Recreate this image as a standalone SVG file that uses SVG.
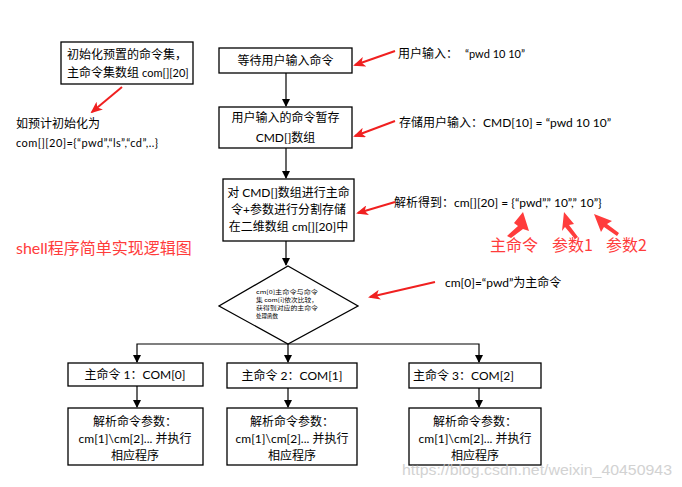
<svg xmlns="http://www.w3.org/2000/svg" width="682" height="487" viewBox="0 0 682 487">
<defs>
<style>
.t{font-family:Lato,"Noto Sans CJK SC",sans-serif;font-size:12px;fill:#000;}
.s{font-size:11px;}
.c{text-anchor:middle;}
.box{fill:#fff;stroke:#000;stroke-width:1.3;}
.ln{fill:none;stroke:#000;stroke-width:1.2;}
.rl{fill:none;stroke:#f02020;stroke-width:2;}
.red{font-family:"Noto Sans CJK SC",sans-serif;font-size:16px;fill:#ff3c3c;}
.tiny{font-family:"Noto Sans CJK SC",sans-serif;font-size:5.5px;fill:#000;}
.wm{font-family:"Liberation Sans",sans-serif;font-size:15px;fill:#c8c8c8;opacity:0.8;}
</style>
<marker id="ah" markerWidth="8" markerHeight="8" refX="7" refY="4" orient="auto" markerUnits="userSpaceOnUse">
<path d="M0,0 L8,4 L0,8 z" fill="#000"/>
</marker>
<marker id="rh" markerWidth="12" markerHeight="10" refX="10" refY="5" orient="auto" markerUnits="userSpaceOnUse">
<path d="M0,0 L12,5 L0,10 L3,5 z" fill="#f02020"/>
</marker>
</defs>
<rect width="682" height="487" fill="#fff"/>

<g id="connectors">
<line class="ln" x1="286" y1="73" x2="286" y2="106" marker-end="url(#ah)"/>
<line class="ln" x1="286" y1="148" x2="286" y2="178" marker-end="url(#ah)"/>
<line class="ln" x1="286" y1="241" x2="286" y2="265" marker-end="url(#ah)"/>
<polyline class="ln" points="137,362 137,344 479,344 479,362"/>
<line class="ln" x1="288" y1="344" x2="288" y2="362" marker-end="url(#ah)"/>
<line class="ln" x1="137" y1="355" x2="137" y2="362" marker-end="url(#ah)"/>
<line class="ln" x1="479" y1="355" x2="479" y2="362" marker-end="url(#ah)"/>
<line class="ln" x1="137" y1="386" x2="137" y2="407" marker-end="url(#ah)"/>
<line class="ln" x1="288" y1="388" x2="288" y2="407" marker-end="url(#ah)"/>
<line class="ln" x1="479" y1="388" x2="479" y2="407" marker-end="url(#ah)"/>
<line class="rl" x1="122" y1="87" x2="92" y2="112" marker-end="url(#rh)"/>
<line class="rl" x1="395" y1="51" x2="355" y2="65" marker-end="url(#rh)"/>
<line class="rl" x1="395" y1="121" x2="355" y2="136" marker-end="url(#rh)"/>
<line class="rl" x1="395" y1="202" x2="358" y2="213" marker-end="url(#rh)"/>
<line class="rl" x1="435" y1="282" x2="370" y2="297" marker-end="url(#rh)"/>
<path d="M523,212 L529,231 L523,229 L511,238 L507,236 L518,226 L514,223 z" fill="#ff3c3c"/>
<path d="M564,212 L574,224 L569,225 L578,237 L575,239 L565,227 L562,231 z" fill="#ff3c3c"/>
<path d="M594,214 L612,221 L607,224 L619,233 L617,236 L604,227 L601,232 z" fill="#ff3c3c"/>
</g>

<g id="preset">
<rect class="box" x="61" y="42" width="132" height="42"/>
<text class="t" x="67" y="59">初始化预置的命令集，</text>
<text class="t" x="67" y="77">主命令集数组 <tspan class="s">com[][20]</tspan></text>
</g>
<g id="preset-note">
<text class="t" x="16" y="128">如预计初始化为</text>
<text class="t s" x="16" y="147" textLength="142" lengthAdjust="spacing">com[][20]={“pwd”,“ls”,“cd”,..}</text>
</g>

<g id="wait">
<rect class="box" x="219" y="48" width="133" height="25"/>
<text class="t c" x="285.5" y="65">等待用户输入命令</text>
</g>
<g id="store">
<rect class="box" x="219" y="107" width="133" height="41"/>
<text class="t c" x="285.5" y="122">用户输入的命令暂存</text>
<text class="t c" x="285.5" y="142">CMD[]数组</text>
</g>
<g id="split">
<rect class="box" x="223" y="179" width="131" height="62"/>
<text class="t c" x="288.5" y="197">对 CMD[]数组进行主命</text>
<text class="t c" x="288.5" y="214">令+参数进行分割存储</text>
<text class="t c" x="288.5" y="231">在二维数组 cm[][20]中</text>
</g>

<g id="input-note">
<text class="t" x="398" y="58">用户输入：<tspan x="465" class="s">“pwd 10 10”</tspan></text>
</g>
<g id="store-note">
<text class="t" x="399" y="127">存储用户输入：CMD[10] = “pwd 10 10”</text>
</g>
<g id="parse-note">
<text class="t" x="394" y="207">解析得到：cm[][20] = {“pwd”,” 10”,” 10”}</text>
</g>
<g id="labels">
<text class="red" x="490" y="251">主命令</text>
<text class="red" x="552" y="251">参数1</text>
<text class="red" x="606" y="251">参数2</text>
</g>
<g id="title">
<text class="red" x="16" y="254" style="font-family:Lato,'Noto Sans CJK SC',sans-serif;">shell程序简单实现逻辑图</text>
</g>

<g id="compare">
<polygon class="box" points="288,266 358,306 288,344 219,306"/>
<text class="tiny" x="256" y="294" textLength="62" lengthAdjust="spacingAndGlyphs">cm[0]主命令与命令</text>
<text class="tiny" x="256" y="302" textLength="62" lengthAdjust="spacingAndGlyphs">集 com[i]依次比较，</text>
<text class="tiny" x="256" y="310" textLength="62" lengthAdjust="spacingAndGlyphs">获得到对应的主命令</text>
<text class="tiny" x="256" y="318" textLength="22" lengthAdjust="spacingAndGlyphs">处理函数</text>
</g>
<g id="compare-note">
<text class="t" x="445" y="287">cm[0]=“pwd”为主命令</text>
</g>

<g id="cmd1">
<rect class="box" x="68" y="363" width="135" height="23"/>
<text class="t c" x="135" y="379">主命令 1：COM[0]</text>
</g>
<g id="cmd2">
<rect class="box" x="227" y="363" width="130" height="25"/>
<text class="t c" x="292" y="380">主命令 2：COM[1]</text>
</g>
<g id="cmd3">
<rect class="box" x="409" y="363" width="132" height="25"/>
<text class="t" x="413" y="380">主命令 3：COM[2]</text>
</g>
<g id="args1">
<rect class="box" x="68" y="408" width="135" height="57"/>
<text class="t c" x="135" y="426">解析命令参数：</text>
<text class="t c" x="135" y="443">cm[1]\cm[2]... 并执行</text>
<text class="t c" x="135" y="460">相应程序</text>
</g>
<g id="args2">
<rect class="box" x="227" y="408" width="130" height="57"/>
<text class="t c" x="292" y="426">解析命令参数：</text>
<text class="t c" x="292" y="443">cm[1]\cm[2]... 并执行</text>
<text class="t c" x="292" y="460">相应程序</text>
</g>
<g id="args3">
<rect class="box" x="409" y="408" width="132" height="57"/>
<text class="t c" x="475" y="426">解析命令参数：</text>
<text class="t c" x="475" y="443">cm[1]\cm[2]... 并执行</text>
<text class="t c" x="475" y="460">相应程序</text>
</g>

<text class="wm" x="402" y="475" textLength="270" lengthAdjust="spacingAndGlyphs">https://blog.csdn.net/weixin_40450943</text>
</svg>
